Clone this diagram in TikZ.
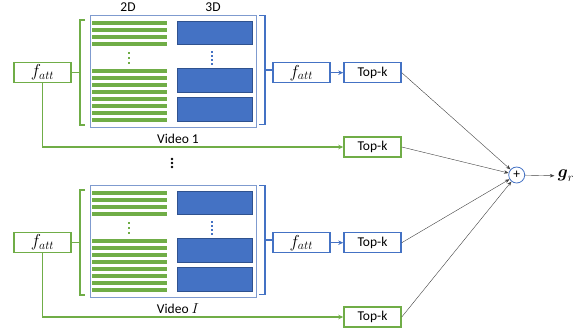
\documentclass[tikz,border=0pt]{standalone}
\usepackage{amsmath}
\usepackage{fontspec}
\setmainfont{Carlito}
\usetikzlibrary{positioning, arrows.meta}
\definecolor{vgreen}{HTML}{70AD47}
\definecolor{vblue}{HTML}{4472C4}
\definecolor{vdblue}{HTML}{2F528F}
\definecolor{vframe}{HTML}{7F9BCF}

\begin{document}
\begin{tikzpicture}[x=1pt, y=-1pt, font=\fontsize{13.5}{16}\selectfont,
        gbox/.style={draw=vgreen, line width=1.5pt, minimum width=57pt, minimum height=20pt, inner sep=0pt},
        bbox/.style={draw=vblue, line width=1.5pt, minimum width=57pt, minimum height=20pt, inner sep=0pt},
        mathbig/.style={font=\fontsize{17}{18}\selectfont},
        brace/.style={line width=1.5pt},
        clip3d/.style={fill=vblue, draw=vdblue, line width=0.6pt},
        thinarrow/.style={-{Stealth[length=4.5pt, width=3.5pt]}, line width=0.4pt, draw=black!75}]
        \useasboundingbox (0,0) rectangle (583,335);

        \node (l2d) at (128,7) {2D};
        \node (l3d) at (213,7) {3D};

        \node[draw=vblue, circle, minimum size=16pt, inner sep=0pt, line width=0.8pt] (sum) at (516.7,175) {+};
        \node[mathbig] (gr) at (566,176) {$\boldsymbol{g}_r$};
        \draw[thinarrow] (sum) -- (gr);

        % dots between the videos
        \foreach \t in {0,1,2}
            \fill (172,159+4*\t) circle (1.3);

        % one block per video
        \foreach \g/\dy/\vid in {1/0/1, 2/170/$I$} {
            \draw[vframe, line width=0.8pt] (90,15.5+\dy) rectangle (256,127+\dy);

            % 2D features
            \foreach \k in {0,...,3}
                \fill[vgreen] (92,20.5+7*\k+\dy) rectangle (167,25+7*\k+\dy);
            \foreach \k in {0,...,7}
                \fill[vgreen] (92,68.5+7*\k+\dy) rectangle (167,73+7*\k+\dy);
            \foreach \t in {0,1,2}
                \fill[vgreen] (127.5,52+5*\t+\dy) rectangle +(2.2,2.2);

            % 3D features
            \draw[clip3d] (177,21+\dy) rectangle (252,44.5+\dy);
            \draw[clip3d] (177,68.5+\dy) rectangle (252,92.5+\dy);
            \draw[clip3d] (177,97+\dy) rectangle (252,121+\dy);
            \foreach \t in {0,...,3}
                \fill[vblue] (211,50.5+4*\t+\dy) rectangle +(2,2);

            \node (vl\g) at (178,139+\dy) {Video \vid};

            \node[gbox, mathbig] (fg\g) at (42.5,72.5+\dy) {$f_{att}$};
            \node[bbox, mathbig] (fb\g) at (301.3,72.7+\dy) {$f_{att}$};
            \node[bbox] (tb\g) at (372.5,72.7+\dy) {Top-k};
            \node[gbox] (tg\g) at (372.5,147+\dy) {Top-k};

            \draw[vgreen, brace] (85,20+\dy) -- (80,20+\dy) -- (80,125+\dy) -- (85,125+\dy);
            \coordinate (gm\g) at (80,72.5+\dy);
            \draw[vgreen, brace] (fg\g.east) -- (gm\g);

            \draw[vblue, brace] (259,15.7+\dy) -- (265,15.7+\dy) -- (265,124.3+\dy) -- (259,124.3+\dy);
            \coordinate (bm\g) at (265,70+\dy);
            \draw[vblue, brace] (bm\g) -- (bm\g -| fb\g.west);

            \draw[vblue, line width=1.2pt, -{Stealth[length=5pt, width=4.5pt]}] (fb\g) -- (tb\g);
            \draw[vgreen, line width=1.2pt, -{Stealth[length=5pt, width=4.5pt]}] (fg\g.south) |- (tg\g.west);

            \draw[thinarrow] (tb\g.east) -- (sum);
            \draw[thinarrow] (tg\g.east) -- (sum);
        }
\end{tikzpicture}
\end{document}
